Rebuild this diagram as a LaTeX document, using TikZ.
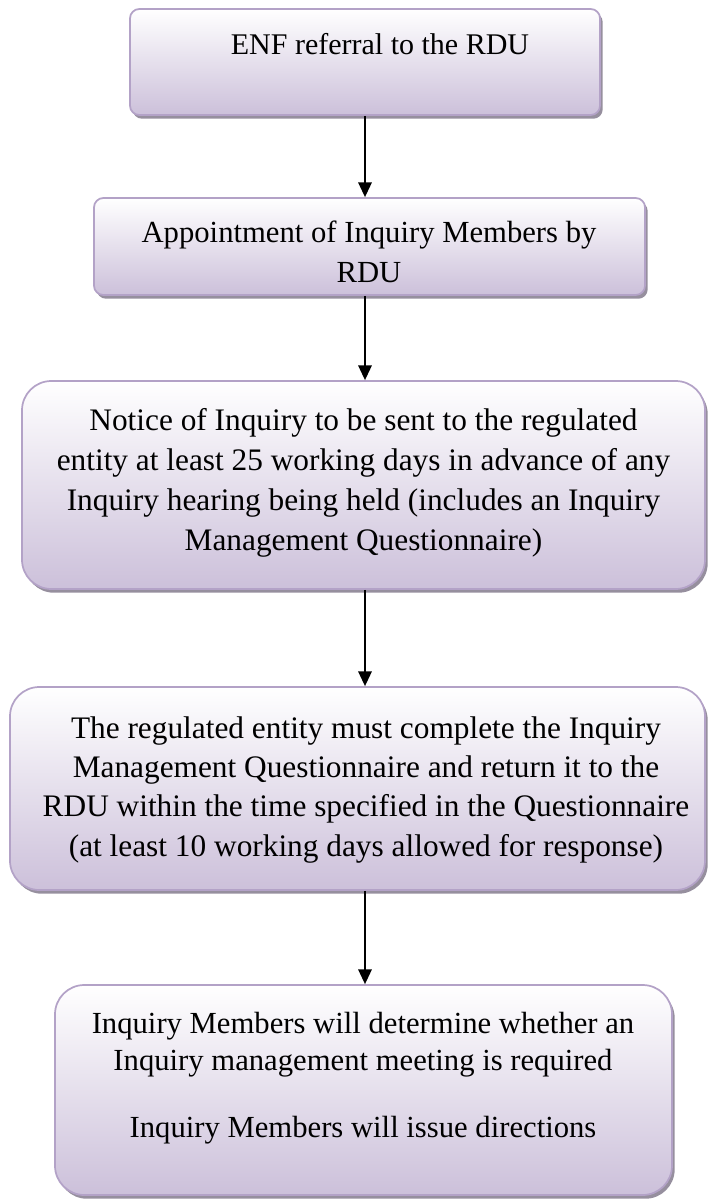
\documentclass[tikz,border=0pt]{standalone}
\usepackage{fontspec}
\setmainfont{Liberation Serif}
\usepackage{tikz}
\usetikzlibrary{shapes,arrows,fit,positioning,arrows.meta}
\usetikzlibrary{shadows}

\definecolor{boxline}{RGB}{179,162,199}
\definecolor{boxfill}{RGB}{204,192,218}
\definecolor{boxshade}{RGB}{150,143,158}

\tikzset{
  flowbox/.style={draw=boxline, line width=1.3pt, top color=white, bottom color=boxfill,
    drop shadow={shadow xshift=2pt, shadow yshift=-2.8pt, fill=boxshade, opacity=1}, inner sep=0pt},
  flowtxt/.style={anchor=north, inner sep=0pt, align=center, font=\fontsize{23}{30}\selectfont},
  flowarrow/.style={line width=1.4pt, -{Triangle[length=11pt,width=10pt]}}
}

\begin{document}
\begin{tikzpicture}[x=0.75pt,y=0.75pt,yscale=-1,xscale=1]
\useasboundingbox (0,0) rectangle (707,1199);

%Rounded Rect: referral
\node[flowbox, rounded corners=7pt, minimum width=352.5pt, minimum height=79.5pt] (enf) at (365,62) {};
%Rounded Rect: appointment
\node[flowbox, rounded corners=7pt, minimum width=413.25pt, minimum height=72.75pt] (appoint) at (369.5,246.5) {};
%Rounded Rect: notice
\node[flowbox, rounded corners=22pt, minimum width=512.25pt, minimum height=156pt] (notice) at (363.5,485) {};
%Rounded Rect: questionnaire
\node[flowbox, rounded corners=22pt, minimum width=521.25pt, minimum height=152.25pt] (complete) at (357.5,788.5) {};
%Rounded Rect: directions
\node[flowbox, rounded corners=22pt, minimum width=462.75pt, minimum height=157.5pt] (determine) at (363.5,1090) {};

%Straight Lines
\draw[flowarrow] (enf.south) -- (enf.south |- appoint.north);
\draw[flowarrow] (enf.south |- appoint.south) -- (enf.south |- notice.north);
\draw[flowarrow] (enf.south |- notice.south) -- (enf.south |- complete.north);
\draw[flowarrow] (enf.south |- complete.south) -- (enf.south |- determine.north);

% Text Node
\node[flowtxt, font=\fontsize{22.5}{30}\selectfont] (enftxt) at (380,33) {ENF referral to the RDU};
% Text Node
\node[flowtxt] (appointtxt) at (369,221) {Appointment of Inquiry Members by\\RDU};
% Text Node
\node[flowtxt, font=\fontsize{23.5}{30}\selectfont] (noticetxt) at (363.5,408) {Notice of Inquiry to be sent to the regulated\\entity at least 25 working days in advance of any\\Inquiry hearing being held (includes an Inquiry\\Management Questionnaire)};
% Text Node
\node[flowtxt, font=\fontsize{23.5}{29.5}\selectfont] (completetxt) at (366,716) {The regulated entity must complete the Inquiry\\Management Questionnaire and return it to the\\RDU within the time specified in the Questionnaire\\(at least 10 working days allowed for response)};
% Text Node
\node[flowtxt, font=\fontsize{23}{28}\selectfont] (determinetxt) at (363,1012) {Inquiry Members will determine whether an\\Inquiry management meeting is required\\[22pt]Inquiry Members will issue directions};
\end{tikzpicture}
\end{document}
